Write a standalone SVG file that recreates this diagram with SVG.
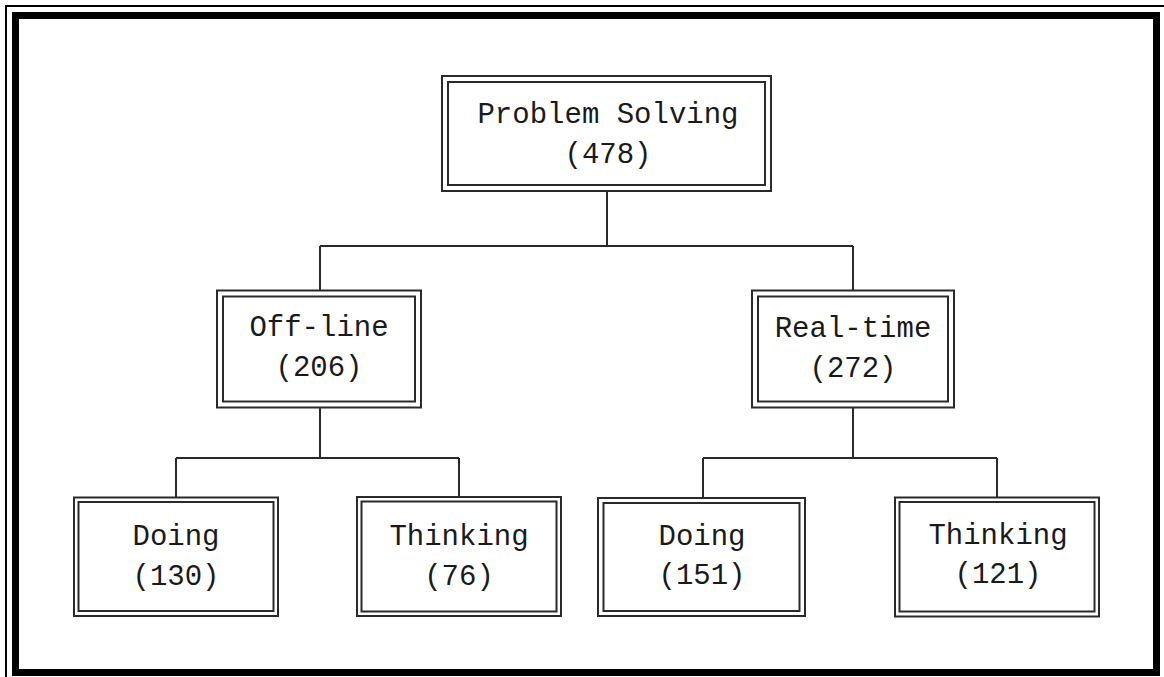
<svg xmlns="http://www.w3.org/2000/svg" width="1164" height="677" viewBox="0 0 1164 677">
<style>
.o{fill:none;stroke:#2a2a2a;stroke-width:2}
.c{fill:none;stroke:#2a2a2a;stroke-width:2}
.t{font-family:"Liberation Mono","Courier New",monospace;font-size:29px;fill:#1a1a1a;text-anchor:middle}
</style>
<rect width="1164" height="677" fill="#fff"/>
<g id="frame">
<rect x="6" y="6" width="1170" height="690" fill="none" stroke="#000" stroke-width="2"/>
<rect x="15.5" y="15.5" width="1141" height="657" fill="none" stroke="#000" stroke-width="7"/>
</g>
<g id="connectors">
<path class="c" d="M607 192V246M320 246H853M320 246V290M853 246V290"/>
<path class="c" d="M320 408V458M176 458H459M176 458V497M459 458V497"/>
<path class="c" d="M853 408V458M703 458H997M703 458V497M997 458V497"/>
</g>
<g id="n-root">
<rect class="o" x="442" y="76" width="329" height="115"/>
<rect class="o" x="448" y="82" width="317" height="103"/>
<text class="t" x="608" y="123">Problem Solving</text>
<text class="t" x="608" y="163">(478)</text>
</g>
<g id="n-offline">
<rect class="o" x="217" y="290.5" width="204" height="117"/>
<rect class="o" x="223" y="296.5" width="192" height="105"/>
<text class="t" x="319" y="336">Off-line</text>
<text class="t" x="319" y="376">(206)</text>
</g>
<g id="n-realtime">
<rect class="o" x="752" y="290.5" width="202" height="117"/>
<rect class="o" x="758" y="296.5" width="190" height="105"/>
<text class="t" x="853" y="337">Real-time</text>
<text class="t" x="853" y="377">(272)</text>
</g>
<g id="n-doing1">
<rect class="o" x="74" y="497.5" width="204" height="118.5"/>
<rect class="o" x="78.5" y="502" width="195" height="109"/>
<text class="t" x="176" y="545">Doing</text>
<text class="t" x="176" y="585">(130)</text>
</g>
<g id="n-thinking1">
<rect class="o" x="357" y="497" width="204" height="119"/>
<rect class="o" x="361.5" y="501.5" width="195" height="110"/>
<text class="t" x="459" y="545">Thinking</text>
<text class="t" x="459" y="585">(76)</text>
</g>
<g id="n-doing2">
<rect class="o" x="598" y="498" width="207" height="118"/>
<rect class="o" x="603.5" y="503" width="196" height="108"/>
<text class="t" x="702" y="545">Doing</text>
<text class="t" x="702" y="584">(151)</text>
</g>
<g id="n-thinking2">
<rect class="o" x="895" y="497.5" width="204" height="119"/>
<rect class="o" x="899.5" y="502" width="195" height="109.5"/>
<text class="t" x="998" y="544">Thinking</text>
<text class="t" x="998" y="583">(121)</text>
</g>
</svg>
